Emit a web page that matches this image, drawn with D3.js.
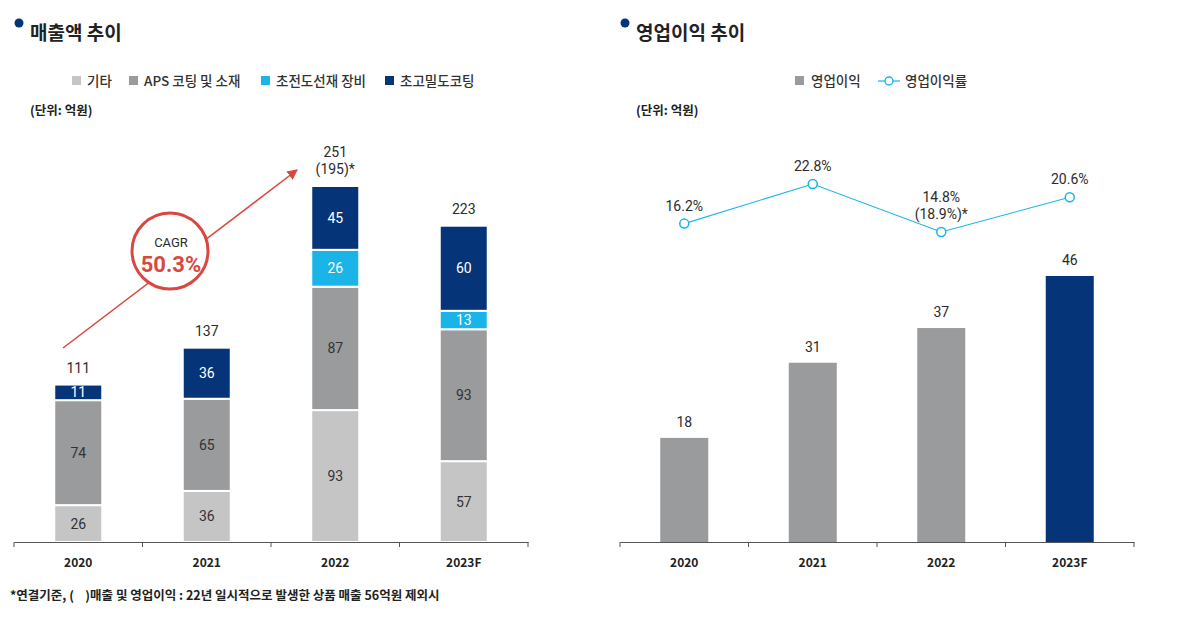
<!DOCTYPE html>
<html><head><meta charset="utf-8">
<script src="https://cdn.jsdelivr.net/npm/d3@7"></script>
<style>
body{margin:0;background:#fff;}
svg{display:block;font-family:"Noto Sans CJK KR","Noto Sans",sans-serif;}
.num{font-family:Roboto,"Noto Sans",sans-serif;}
</style></head>
<body>
<svg id="c" width="1183" height="617"></svg>
<script>
// ---- data ----
const years = ["2020","2021","2022","2023F"];
const seriesNames = ["기타","APS 코팅 및 소재","초전도선재 장비","초고밀도코팅"];
const etc = [26,36,93,57];
const aps = [74,65,87,93];
const supercon = [0,0,26,13];
const hidensity = [11,36,45,60];
const totalLabels = [["111"],["137"],["251","(195)*"],["223"]];
const opProfit = [18,31,37,46];
const opMargin = [16.2,22.8,14.8,20.6];
const marginLabels = [["16.2%"],["22.8%"],["14.8%","(18.9%)*"],["20.6%"]];
const cagrText = "50.3%";

const colors = ["#c6c5c6","#9a9b9d","#1ab4e8","#063478"];
const svg = d3.select("#c");
const dark = "#2b2b2b";

// ---- headers ----
function header(x, title){
  svg.append("circle").attr("cx",x-11).attr("cy",23).attr("r",4.5).attr("fill","#063478");
  svg.append("text").attr("x",x).attr("y",40).attr("font-size",19).attr("font-weight",700)
    .attr("fill","#222").text(title);
  svg.append("text").attr("x",x).attr("y",115).attr("font-size",12.5).attr("font-weight",600)
    .attr("fill","#222").text("(단위: 억원)");
}
header(30,"매출액 추이");
header(636,"영업이익 추이");

// ---- left legend ----
const legX = [72,129,261,385];
seriesNames.forEach((n,i)=>{
  svg.append("rect").attr("x",legX[i]).attr("y",76).attr("width",9).attr("height",9).attr("fill",colors[i]);
  svg.append("text").attr("x",legX[i]+15).attr("y",86).attr("font-size",13.5).attr("font-weight",500)
    .attr("fill","#333").text(n);
});

// ---- left chart ----
const xLb = d3.scaleBand().domain(years).range([14,528]);
const yL = d3.scaleLinear().domain([0,251]).range([542,186]);
const bwL = 48;
const seriesArr = [etc,aps,supercon,hidensity];
const stackData = years.map((y,i)=>{const o={year:y}; seriesNames.forEach((n,k)=>o[n]=seriesArr[k][i]); return o;});
const stacked = d3.stack().keys(seriesNames)(stackData);
stacked.forEach((layer,k)=>{
  layer.forEach((d,i)=>{
    const v = d[1]-d[0];
    if(v<=0) return;
    const y0 = yL(d[0]), y1 = yL(d[1]);
    const bx = xLb(years[i]) + xLb.bandwidth()/2 - bwL/2;
    svg.append("rect").attr("x",bx).attr("y",y1).attr("width",bwL).attr("height",y0-y1)
      .attr("fill",colors[k]).attr("stroke","#fff").attr("stroke-width",2);
    svg.append("text").attr("class","num").attr("x",bx+bwL/2).attr("y",(y0+y1)/2+5).attr("text-anchor","middle")
      .attr("font-size",14).attr("fill",k>=2?"#fff":"#333").text(v);
  });
});
years.forEach((y,i)=>{
  const top = yL(etc[i]+aps[i]+supercon[i]+hidensity[i]);
  const cx = xLb(y)+xLb.bandwidth()/2;
  const lines = totalLabels[i];
  lines.forEach((t,j)=>{
    svg.append("text").attr("class","num").attr("x",cx).attr("y",top-12-(lines.length-1-j)*17).attr("text-anchor","middle")
      .attr("font-size",14).attr("fill",dark).text(t);
  });
});
const axL = svg.append("g").attr("transform","translate(0,542)")
  .call(d3.axisBottom(xLb).tickSize(0).tickPadding(16));
axL.select(".domain").attr("stroke","#555");
axL.selectAll("text").attr("font-size",12).attr("font-weight",700).attr("fill","#222")
  .attr("font-family","\"Noto Sans CJK KR\",sans-serif");
for(let i=0;i<=4;i++){
  const x = 14 + i*xLb.step();
  svg.append("line").attr("x1",x).attr("x2",x).attr("y1",542).attr("y2",547).attr("stroke","#555");
}

// CAGR arrow
svg.append("defs").append("marker").attr("id","ah").attr("viewBox","0 0 10 10").attr("refX",9).attr("refY",5)
  .attr("markerWidth",7).attr("markerHeight",7).attr("orient","auto")
  .append("path").attr("d","M0,0 L10,5 L0,10 z").attr("fill","#d9473f");
svg.append("line").attr("x1",63).attr("y1",348).attr("x2",297).attr("y2",170)
  .attr("stroke","#d9473f").attr("stroke-width",1.5).attr("marker-end","url(#ah)");
svg.append("circle").attr("cx",170).attr("cy",251).attr("r",38).attr("fill","#fff")
  .attr("stroke","#d9473f").attr("stroke-width",3);
svg.append("text").attr("class","num").attr("x",171).attr("y",247).attr("text-anchor","middle").attr("font-size",13).attr("fill",dark).text("CAGR");
svg.append("text").attr("class","num").attr("x",171).attr("y",272).attr("text-anchor","middle").attr("font-size",22)
  .attr("font-weight",700).attr("fill","#d9473f").text(cagrText);

// ---- right legend ----
svg.append("rect").attr("x",795).attr("y",76).attr("width",9).attr("height",9).attr("fill",colors[1]);
svg.append("text").attr("x",811).attr("y",86).attr("font-size",13.5).attr("font-weight",500).attr("fill","#333").text("영업이익");
svg.append("line").attr("x1",878).attr("x2",900).attr("y1",81).attr("y2",81).attr("stroke","#1ab4e8").attr("stroke-width",1.2);
svg.append("circle").attr("cx",889).attr("cy",81).attr("r",4).attr("fill","#fff").attr("stroke","#1ab4e8").attr("stroke-width",1.4);
svg.append("text").attr("x",905).attr("y",86).attr("font-size",13.5).attr("font-weight",500).attr("fill","#333").text("영업이익률");

// ---- right chart ----
const xR = d3.scaleBand().domain(years).range([620,1134]);
const yR = d3.scaleLinear().domain([0,46]).range([542,276]);
const yM = d3.scaleLinear().domain([14.8,22.8]).range([232,184]);
const bwR = 48;
years.forEach((y,i)=>{
  const cx = xR(y)+xR.bandwidth()/2;
  svg.append("rect").attr("x",cx-bwR/2).attr("y",yR(opProfit[i])).attr("width",bwR)
    .attr("height",542-yR(opProfit[i])).attr("fill",i===3?colors[3]:colors[1]);
  svg.append("text").attr("class","num").attr("x",cx).attr("y",yR(opProfit[i])-11).attr("text-anchor","middle")
    .attr("font-size",14).attr("fill",dark).text(opProfit[i]);
});
const axR = svg.append("g").attr("transform","translate(0,542)")
  .call(d3.axisBottom(xR).tickSize(0).tickPadding(16));
axR.select(".domain").attr("stroke","#555");
axR.selectAll("text").attr("font-size",12).attr("font-weight",700).attr("fill","#222")
  .attr("font-family","\"Noto Sans CJK KR\",sans-serif");
for(let i=0;i<=4;i++){
  const x = 620 + i*xR.step();
  svg.append("line").attr("x1",x).attr("x2",x).attr("y1",542).attr("y2",547).attr("stroke","#555");
}
const lineGen = d3.line().x((d,i)=>xR(years[i])+xR.bandwidth()/2).y(d=>yM(d));
svg.append("path").datum(opMargin).attr("d",lineGen).attr("fill","none").attr("stroke","#1ab4e8").attr("stroke-width",1.1);
opMargin.forEach((m,i)=>{
  const cx = xR(years[i])+xR.bandwidth()/2, cy = yM(m);
  svg.append("circle").attr("cx",cx).attr("cy",cy).attr("r",4.5).attr("fill","#fff")
    .attr("stroke","#1ab4e8").attr("stroke-width",1.5);
  const lines = marginLabels[i];
  lines.forEach((t,j)=>{
    svg.append("text").attr("class","num").attr("x",cx).attr("y",cy-13-(lines.length-1-j)*17).attr("text-anchor","middle")
      .attr("font-size",14).attr("fill",dark).text(t);
  });
});

// footnote
svg.append("text").attr("x",10).attr("y",600).attr("font-size",12.5).attr("font-weight",600).attr("fill","#222")
  .attr("xml:space","preserve")
  .text("*연결기준, (    )매출 및 영업이익 : 22년 일시적으로 발생한 상품 매출 56억원 제외시");
</script>
</body></html>
